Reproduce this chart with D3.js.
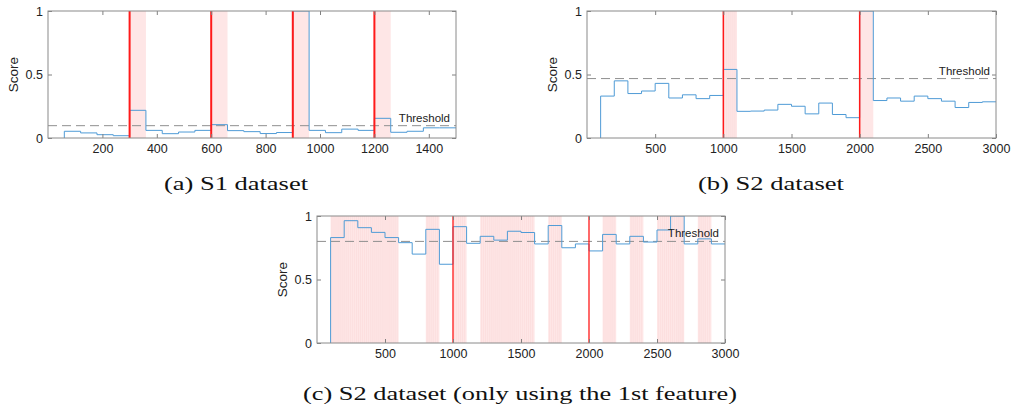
<!DOCTYPE html>
<html>
<head>
<meta charset="utf-8">
<script src="https://cdn.jsdelivr.net/npm/d3@7"></script>
<style>
  html, body { margin: 0; padding: 0; background: #fff; }
  svg { display: block; }
  .tick text { font-family: "Liberation Sans", Arial, Helvetica, sans-serif; font-size: 12.5px; fill: #222; }
  .cap { font-family: "Liberation Serif", "Times New Roman", serif; font-size: 18px; fill: #111; }
</style>
</head>
<body>
<svg id="fig" width="1011" height="407"></svg>
<script>
// ---------------- DATA ----------------
// (a) S1 dataset : stair values, one per 60-sample window starting at 60
const s1Starts = [60,120,180,240,300,360,420,480,540,600,660,720,780,840,900,960,1020,1080,1140,1200,1260,1320,1380,1440];
const s1Values = [0.053,0.04,0.026,0.018,0.218,0.06,0.034,0.047,0.06,0.105,0.058,0.05,0.035,0.043,1.0,0.06,0.042,0.07,0.06,0.155,0.045,0.053,0.08,0.08];
const s1End = 1500;
const s1Threshold = 0.097;
const s1ChangePoints = [300,600,900,1200];
const s1Shaded = [[300,360],[600,660],[900,960],[1200,1260]];
const s1XTicks = [200,400,600,800,1000,1200,1400];

// (b) S2 dataset : one value per 100-sample window starting at 100
const s2Starts = [100,200,300,400,500,600,700,800,900,1000,1100,1200,1300,1400,1500,1600,1700,1800,1900,2000,2100,2200,2300,2400,2500,2600,2700,2800,2900];
const s2Values = [0.33,0.45,0.35,0.37,0.43,0.315,0.34,0.31,0.335,0.54,0.21,0.212,0.22,0.265,0.25,0.19,0.275,0.185,0.16,1.0,0.295,0.315,0.29,0.33,0.31,0.29,0.24,0.28,0.285];
const s2End = 3000;
const s2Threshold = 0.468;
const s2ChangePoints = [1000,2000];
const s2Shaded = [[1000,1100],[2000,2100]];
const s2XTicks = [500,1000,1500,2000,2500,3000];

// (c) S2 dataset, only 1st feature
const s2fStarts = s2Starts;
const s2fValues = [0.83,0.963,0.908,0.871,0.83,0.79,0.70,0.895,0.62,0.916,0.785,0.84,0.81,0.88,0.87,0.78,0.925,0.75,0.78,0.725,0.855,0.78,0.84,0.795,0.89,1.0,0.78,0.82,0.78];
const s2fEnd = 3000;
const s2fThreshold = 0.80;
const s2fChangePoints = [1000,2000];
const s2fShaded = [[100,600],[800,900],[1000,1100],[1200,1600],[1700,1800],[2100,2200],[2300,2400],[2500,2700],[2800,2900]];

const yTicks = [0, 0.5, 1];
const yTickLabels = ["0", "0.5", "1"];
const captions = ["(a) S1 dataset", "(b) S2 dataset", "(c) S2 dataset (only using the 1st feature)"];
const yLabel = "Score";
const thresholdLabel = "Threshold";

// ---------------- DRAW ----------------
const svg = d3.select("#fig");

function panel(cfg) {
  const {left, right, top, bottom, domain, starts, values, end, thr, cps, shaded, xticks, redWidth, stripes, stripeSet, id} = cfg;
  const x = d3.scaleLinear().domain(domain).range([left, right]);
  const y = d3.scaleLinear().domain([0, 1]).range([bottom, top]);
  const g = svg.append("g");

  g.append("clipPath").attr("id", id).append("rect")
    .attr("x", left).attr("y", top).attr("width", right - left).attr("height", bottom - top);

  const body = g.append("g").attr("clip-path", `url(#${id})`);

  // shaded regions
  body.selectAll("rect.shade").data(shaded).join("rect")
    .attr("class", "shade")
    .attr("x", d => x(d[0])).attr("width", d => x(d[1]) - x(d[0]))
    .attr("y", top).attr("height", bottom - top)
    .attr("fill", "#fee6e6");
  if (stripes) {
    shaded.forEach((d, i) => {
      if (stripeSet && !stripeSet.includes(i)) return;
      body.append("g").selectAll("line").data(d3.range(d[0] + 10, d[1], 15)).join("line")
        .attr("x1", v => x(v)).attr("x2", v => x(v))
        .attr("y1", top).attr("y2", bottom)
        .attr("stroke", "#f9cccc").attr("stroke-width", 0.6).attr("opacity", 0.45);
    });
  }

  // threshold line
  body.append("line")
    .attr("x1", left).attr("x2", right)
    .attr("y1", y(thr)).attr("y2", y(thr))
    .attr("stroke", "#8f8f8f").attr("stroke-width", 1)
    .attr("stroke-dasharray", "9,5");

  // score stairs
  const pts = [[starts[0], 0]].concat(starts.map((s, i) => [s, values[i]]), [[end, values[values.length - 1]]]);
  const line = d3.line().x(d => x(d[0])).y(d => y(d[1])).curve(d3.curveStepAfter);
  body.append("path").datum(pts)
    .attr("d", line)
    .attr("fill", "none")
    .attr("stroke", "#4f9bd6")
    .attr("stroke-width", 1);

  // change points (drawn over the score line)
  body.selectAll("line.cp").data(cps).join("line")
    .attr("class", "cp")
    .attr("x1", d => x(d)).attr("x2", d => x(d))
    .attr("y1", top).attr("y2", bottom)
    .attr("stroke", "#ff1a1a").attr("stroke-width", redWidth);

  // axes (ticks inward)
  const fmtY = (d) => yTickLabels[yTicks.indexOf(d)];
  const ax = [
    g.append("g").attr("transform", `translate(0,${bottom})`)
      .call(d3.axisBottom(x).tickValues(xticks).tickSize(-4).tickPadding(6).tickFormat(d3.format("d"))),
    g.append("g").attr("transform", `translate(0,${top})`)
      .call(d3.axisTop(x).tickValues(xticks).tickSize(-4).tickFormat("")),
    g.append("g").attr("transform", `translate(${left},0)`)
      .call(d3.axisLeft(y).tickValues(yTicks).tickSize(-4).tickPadding(5).tickFormat(fmtY)),
    g.append("g").attr("transform", `translate(${right},0)`)
      .call(d3.axisRight(y).tickValues(yTicks).tickSize(-4).tickFormat(""))
  ];
  ax.forEach(a => {
    a.select(".domain").remove();
    a.selectAll(".tick line").attr("stroke", "#808080");
  });

  // box
  g.append("rect")
    .attr("x", left).attr("y", top).attr("width", right - left).attr("height", bottom - top)
    .attr("fill", "none").attr("stroke", "#8a8a8a").attr("stroke-width", 1);

  // y label
  g.append("text")
    .attr("transform", `translate(${left - 35},${(top + bottom) / 2}) rotate(-90)`)
    .attr("text-anchor", "middle").attr("dominant-baseline", "central")
    .attr("font-family", "Liberation Sans, Arial, Helvetica, sans-serif")
    .attr("font-size", 13.5).attr("fill", "#222")
    .text(yLabel);

  // threshold label
  g.append("text")
    .attr("x", right - 6).attr("y", y(thr) - 4)
    .attr("text-anchor", "end")
    .attr("font-family", "Liberation Sans, Arial, Helvetica, sans-serif")
    .attr("font-size", 11.5).attr("fill", "#222")
    .text(thresholdLabel);
}

panel({id: "ca", left: 48, right: 456, top: 11, bottom: 138, domain: [0, 1500],
  starts: s1Starts, values: s1Values, end: s1End, thr: s1Threshold, cps: s1ChangePoints,
  shaded: s1Shaded, xticks: s1XTicks, redWidth: 2, stripes: false});
panel({id: "cb", left: 587, right: 996, top: 11, bottom: 138, domain: [0, 3000],
  starts: s2Starts, values: s2Values, end: s2End, thr: s2Threshold, cps: s2ChangePoints,
  shaded: s2Shaded, xticks: s2XTicks, redWidth: 1.5, stripes: true, stripeSet: [0]});
panel({id: "cc", left: 317, right: 725, top: 216, bottom: 343, domain: [0, 3000],
  starts: s2fStarts, values: s2fValues, end: s2fEnd, thr: s2fThreshold, cps: s2fChangePoints,
  shaded: s2fShaded, xticks: s2XTicks, redWidth: 1.3, stripes: true});

// captions
const capPos = [[236, 190, 144], [771, 190, 146], [520, 400, 434]];
captions.forEach((c, i) => {
  svg.append("text").attr("class", "cap")
    .attr("x", capPos[i][0]).attr("y", capPos[i][1])
    .attr("text-anchor", "middle")
    .attr("textLength", capPos[i][2]).attr("lengthAdjust", "spacingAndGlyphs")
    .text(c);
});
</script>
</body>
</html>
